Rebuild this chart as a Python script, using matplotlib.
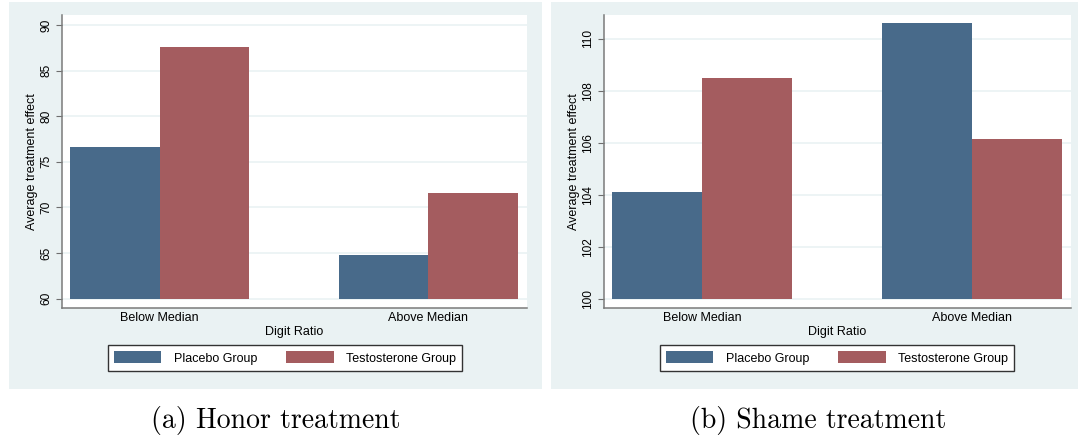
import matplotlib
matplotlib.use('Agg')
import matplotlib.pyplot as plt
from matplotlib.patches import Rectangle, Patch

plt.rcParams['font.family'] = ['Liberation Sans', 'DejaVu Sans']

# data
categories = ['Below Median', 'Above Median']
series_names = ['Placebo Group', 'Testosterone Group']
honor_placebo = [76.6, 64.8]
honor_testosterone = [87.6, 71.6]
shame_placebo = [104.1, 110.6]
shame_testosterone = [108.5, 106.15]
honor_ticks = [60, 65, 70, 75, 80, 85, 90]
shame_ticks = [100, 102, 104, 106, 108, 110]

navy = '#486a8a'
maroon = '#a45c5f'
panel_bg = '#eaf2f3'

fig = plt.figure(figsize=(10.78, 4.37), dpi=100)
W, H = 1078, 437

# light panel backgrounds (Stata graph region)
for x0, x1 in [(9, 542), (551, 1078)]:
    fig.patches.append(Rectangle((x0 / W, (H - 389) / H), (x1 - x0) / W, 387 / H,
                                 transform=fig.transFigure, facecolor=panel_bg,
                                 edgecolor='none', zorder=-10))


def draw_panel(left_px, right_px, placebo, testo, base, ylims, ticks, legend_x, caption, cap_x):
    width_px = right_px - left_px
    ax = fig.add_axes([left_px / W, (H - 308) / H, width_px / W, 293 / H])
    ax.set_zorder(1)
    ax.set_facecolor('white')
    w = 0.334
    pos = [0, 1]
    ax.bar([p - w / 2 for p in pos], [v - base for v in placebo], w, bottom=base,
           color=navy, zorder=3, linewidth=0)
    ax.bar([p + w / 2 for p in pos], [v - base for v in testo], w, bottom=base,
           color=maroon, zorder=3, linewidth=0)
    ax.set_xlim(-0.363, 1.367)
    ax.set_ylim(*ylims)
    ax.set_yticks(ticks)
    ax.set_yticklabels([str(t) for t in ticks], rotation=90, va='center', fontsize=8.6)
    ax.tick_params(axis='y', length=4.3, width=0.8, color='#6e6e6e', pad=2.9)
    ax.set_xticks(pos)
    ax.set_xticklabels(categories, fontsize=9)
    ax.tick_params(axis='x', length=0, pad=3)
    ax.yaxis.grid(True, color=panel_bg, linewidth=1.2, zorder=0)
    ax.set_axisbelow(True)
    for s in ['top', 'right']:
        ax.spines[s].set_visible(False)
    for s in ['left', 'bottom']:
        ax.spines[s].set_color('#7a7a7a')
        ax.spines[s].set_linewidth(1.1)
    ax.set_ylabel('Average treatment effect', fontsize=9)
    ax.yaxis.label.set_va('center')
    ax.yaxis.set_label_coords(-29.5 / width_px, 0.5)
    ax.set_xlabel('Digit Ratio', fontsize=9)
    ax.xaxis.set_label_coords(0.5, -24 / 293)
    ax.xaxis.label.set_va('center')
    handles = [Patch(facecolor=navy, edgecolor='none'), Patch(facecolor=maroon, edgecolor='none')]
    fig.legend(handles, series_names, loc='center', ncol=2,
               bbox_to_anchor=(legend_x / W, (H - 358) / H), fontsize=9,
               frameon=True, fancybox=False, edgecolor='#333333', framealpha=1,
               handlelength=3.8, handleheight=1.1, handletextpad=1.0,
               columnspacing=2.3, borderpad=0.5)
    fig.text(cap_x / W, (H - 428) / H, caption, family='cmr10', fontsize=20,
             ha='center', va='baseline')
    return ax


draw_panel(62, 527, honor_placebo, honor_testosterone, 60, (58.96, 91.1), honor_ticks,
           285, '(a) Honor treatment', 275.5)
draw_panel(604, 1071, shame_placebo, shame_testosterone, 100, (99.65, 110.92), shame_ticks,
           837, '(b) Shame treatment', 818)

fig.savefig('out.png', dpi=100)
